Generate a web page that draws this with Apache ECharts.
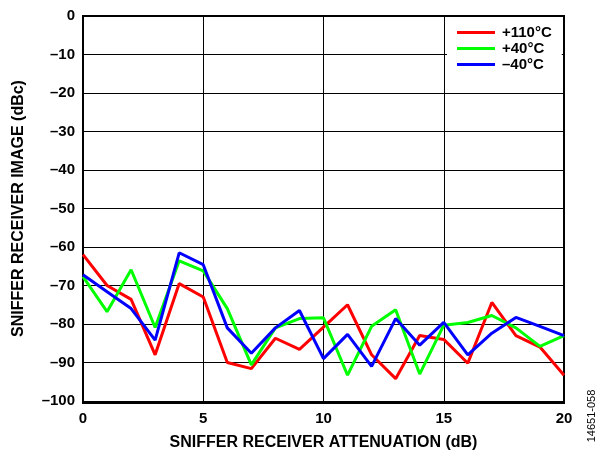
<!DOCTYPE html>
<html>
<head>
<meta charset="utf-8">
<script src="https://cdn.jsdelivr.net/npm/echarts@6/dist/echarts.min.js"></script>
<style>
  html, body { margin: 0; padding: 0; background: #fff; }
  #main { width: 605px; height: 456px; }
</style>
</head>
<body>
<div id="main"></div>
<script>
// attenuation steps (dB)
var attenuation = [0,1,2,3,4,5,6,7,8,9,10,11,12,13,14,15,16,17,18,19,20];
// image level (dBc) per temperature
var hot110 = [-62,-70,-73.6,-88,-69.5,-73,-90,-91.6,-83.7,-86.6,-80.8,-75,-88,-94.2,-83,-84,-90.2,-74.4,-83,-86,-93.3];
var mid40  = [-67.7,-76.8,-65.9,-80.9,-63.6,-66.2,-76,-90.6,-81,-78.6,-78.4,-93.3,-80.6,-76.3,-93,-80.3,-79.6,-77.8,-81,-85.8,-83];
var cold40 = [-67.2,-71.6,-76,-84.2,-61.5,-64.6,-81,-87.6,-81,-76.5,-89,-82.7,-91,-78.6,-85.5,-79.6,-88,-82.4,-78.3,-80.6,-83];
var names = ['+110°C', '+40°C', '\u201340°C'];

function pairs(vals) {
    return attenuation.map(function (a, i) { return [a, vals[i]]; });
}

var font = 'Liberation Sans, Arial, sans-serif';

var option = {
    animation: false,
    backgroundColor: '#fff',
    grid: { left: 83, top: 16, right: 41, bottom: 53 },
    legend: {
        data: names,
        orient: 'vertical',
        left: 447,
        top: 17,
        icon: 'rect',
        itemWidth: 38,
        itemHeight: 3,
        itemGap: 1,
        padding: [8, 10, 8, 10],
        backgroundColor: '#fff',
        textStyle: { fontFamily: font, fontWeight: 'bold', fontSize: 15, color: '#000', padding: [0, 0, 0, 2] }
    },
    xAxis: {
        type: 'value',
        min: 0, max: 20, interval: 5,
        name: 'SNIFFER RECEIVER ATTENUATION (dB)',
        nameLocation: 'middle',
        nameGap: 34,
        nameTextStyle: { fontFamily: font, fontWeight: 'bold', fontSize: 16, color: '#000' },
        axisLine: { lineStyle: { color: '#000', width: 2 } },
        axisTick: { show: false },
        axisLabel: { fontFamily: font, fontWeight: 'bold', fontSize: 15, color: '#000', margin: 10 },
        splitLine: { lineStyle: { color: '#000', width: 1 } }
    },
    yAxis: {
        type: 'value',
        min: -100, max: 0, interval: 10,
        name: 'SNIFFER RECEIVER IMAGE (dBc)',
        nameLocation: 'middle',
        nameGap: 56,
        nameRotate: 90,
        nameTextStyle: { fontFamily: font, fontWeight: 'bold', fontSize: 16, color: '#000' },
        axisLine: { show: true, lineStyle: { color: '#000', width: 2 } },
        axisTick: { show: false },
        axisLabel: {
            fontFamily: font, fontWeight: 'bold', fontSize: 15, color: '#000', margin: 8,
            formatter: function (v) { return String(v).replace('-', '\u2013'); }
        },
        splitLine: { lineStyle: { color: '#000', width: 1 } }
    },
    graphic: [
        { type: 'rect', shape: { x: 83, y: 16, width: 481, height: 387 }, style: { fill: 'none', stroke: '#000', lineWidth: 2 }, z: 1 },
        { type: 'text', x: 592, y: 416, rotation: Math.PI / 2,
          style: { text: '14651-058', fontFamily: font, fontSize: 11, fill: '#000', align: 'center', verticalAlign: 'middle' } }
    ],
    series: [
        { name: names[0], type: 'line', data: pairs(hot110), showSymbol: false, lineStyle: { color: '#ff0000', width: 3 }, itemStyle: { color: '#ff0000' } },
        { name: names[1], type: 'line', data: pairs(mid40), showSymbol: false, lineStyle: { color: '#00ff00', width: 3 }, itemStyle: { color: '#00ff00' } },
        { name: names[2], type: 'line', data: pairs(cold40), showSymbol: false, lineStyle: { color: '#0000ff', width: 3 }, itemStyle: { color: '#0000ff' } }
    ]
};

var myChart = echarts.init(document.getElementById('main'));
myChart.setOption(option);
</script>
</body>
</html>
